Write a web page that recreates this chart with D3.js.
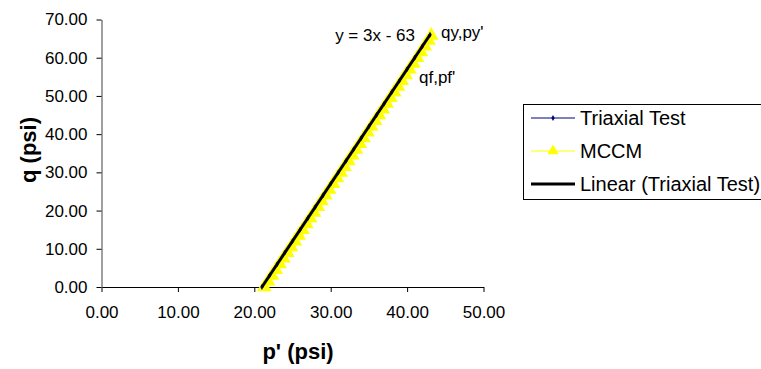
<!DOCTYPE html>
<html><head><meta charset="utf-8">
<script src="https://cdn.jsdelivr.net/npm/d3@7/dist/d3.min.js"></script>
<style>body{margin:0;background:#fff}svg{display:block;font-family:"Liberation Sans",Arial,sans-serif}</style>
</head><body><svg id="c" width="761" height="369"></svg>
<script>
// Data
const xTicks = [0, 10, 20, 30, 40, 50];
const yTicks = [0, 10, 20, 30, 40, 50, 60, 70];
const triaxialP = [21.0, 22.0, 23.0, 24.0, 25.0, 26.0, 27.0, 28.0, 29.0, 30.0, 31.0, 32.0, 33.0, 34.0, 35.0, 36.0, 37.0, 38.0, 39.0, 40.0, 41.0, 42.0, 43.0];
const triaxialQ = [0.0, 3.0, 6.0, 9.0, 12.0, 15.0, 18.0, 21.0, 24.0, 27.0, 30.0, 33.0, 36.0, 39.0, 42.0, 45.0, 48.0, 51.0, 54.0, 57.0, 60.0, 63.0, 66.0];
const mccmP = [21.3, 21.8, 22.3, 22.8, 23.3, 23.8, 24.3, 24.8, 25.3, 25.8, 26.3, 26.8, 27.3, 27.8, 28.3, 28.8, 29.3, 29.8, 30.3, 30.8, 31.3, 31.8, 32.3, 32.8, 33.3, 33.8, 34.3, 34.8, 35.3, 35.8, 36.3, 36.8, 37.3, 37.8, 38.3, 38.8, 39.3, 39.8, 40.3, 40.8, 41.3, 41.8, 42.3, 42.8, 43.15];
const mccmQ = [0.0, 1.5, 3.0, 4.5, 6.0, 7.5, 9.0, 10.5, 12.0, 13.5, 15.0, 16.5, 18.0, 19.5, 21.0, 22.5, 24.0, 25.5, 27.0, 28.5, 30.0, 31.5, 33.0, 34.5, 36.0, 37.5, 39.0, 40.5, 42.0, 43.5, 45.0, 46.5, 48.0, 49.5, 51.0, 52.5, 54.0, 55.5, 57.0, 58.5, 60.0, 61.5, 63.0, 64.5, 65.8];
const trendSlope = 3, trendIntercept = -63;
const trendRange = [21, 43];
const legendLabels = ["Triaxial Test", "MCCM", "Linear (Triaxial Test)"];

const svg = d3.select("#c");
const x = d3.scaleLinear().domain([0, 50]).range([101.5, 483.5]);
const y = d3.scaleLinear().domain([0, 70]).range([287, 19.5]);

// axes
const gx = svg.append("g").attr("transform", "translate(0,287)")
  .call(d3.axisBottom(x).tickValues(xTicks).tickFormat(d3.format(".2f")).tickSize(5).tickSizeOuter(0));
const gy = svg.append("g").attr("transform", "translate(101.5,0)")
  .call(d3.axisLeft(y).tickValues(yTicks).tickFormat(d3.format(".2f")).tickSize(5).tickSizeOuter(0));
[gx, gy].forEach(g => {
  g.selectAll(".tick line").attr("stroke", "#000");
  g.selectAll(".tick text").attr("fill", "#000").style("font-size", "17px").style("font-family", "Liberation Sans, Arial, sans-serif");
});
gx.select(".domain").attr("stroke", "#000");
gy.select(".domain").attr("stroke", "#808080").attr("stroke-width", 1.5);
gx.selectAll(".tick text").attr("y", 31).attr("dy", 0);
gy.selectAll(".tick text").attr("x", -14);

// axis titles
svg.append("text").attr("x", 298).attr("y", 359).attr("text-anchor", "middle")
  .style("font-size", "22px").style("font-weight", "bold").text("p' (psi)");
svg.append("text").attr("transform", "translate(36,150) rotate(-90)").attr("text-anchor", "middle")
  .style("font-size", "22px").style("font-weight", "bold").text("q (psi)");

// MCCM series
const mccm = mccmP.map((p, i) => [p, mccmQ[i]]);
svg.append("path").datum(mccm).attr("fill", "none").attr("stroke", "#ffff00").attr("stroke-width", 1)
  .attr("d", d3.line().x(d => x(d[0])).y(d => y(d[1])));
const tri = d3.symbol().type(d3.symbolTriangle).size(95);
svg.append("g").selectAll("path").data(mccm).join("path")
  .attr("transform", d => `translate(${x(d[0])},${y(d[1])})`).attr("d", tri).attr("fill", "#ffff00");

// Triaxial series
const triax = triaxialP.map((p, i) => [p, triaxialQ[i]]);
svg.append("path").datum(triax).attr("fill", "none").attr("stroke", "#000080").attr("stroke-width", 1)
  .attr("d", d3.line().x(d => x(d[0])).y(d => y(d[1])));
const dia = d3.symbol().type(d3.symbolDiamond).size(10);
svg.append("g").selectAll("path").data(triax).join("path")
  .attr("transform", d => `translate(${x(d[0])},${y(d[1])})`).attr("d", dia).attr("fill", "#000080");

// Trendline
svg.append("line")
  .attr("x1", x(trendRange[0])).attr("y1", y(trendSlope * trendRange[0] + trendIntercept))
  .attr("x2", x(trendRange[1])).attr("y2", y(trendSlope * trendRange[1] + trendIntercept))
  .attr("stroke", "#000").attr("stroke-width", 3);

// annotations
svg.append("text").attr("x", 415).attr("y", 41).attr("text-anchor", "end").style("font-size", "17px").text("y = 3x - 63");
svg.append("text").attr("x", 441).attr("y", 38).style("font-size", "17px").text("qy,py'");
svg.append("text").attr("x", 419).attr("y", 83).style("font-size", "17px").text("qf,pf'");

// legend
const lg = svg.append("g");
lg.append("rect").attr("x", 523.5).attr("y", 104.5).attr("width", 245).attr("height", 95)
  .attr("fill", "#fff").attr("stroke", "#000").attr("stroke-width", 1);
const rowsY = [118, 151, 184];
legendLabels.forEach((lab, i) => {
  const yy = rowsY[i];
  const col = i === 0 ? "#000080" : i === 1 ? "#ffff00" : "#000";
  lg.append("line").attr("x1", 531).attr("x2", 575).attr("y1", yy).attr("y2", yy)
    .attr("stroke", col).attr("stroke-width", i === 2 ? 3 : 1);
  if (i === 0) lg.append("path").attr("transform", `translate(553,${yy})`).attr("d", dia).attr("fill", col);
  if (i === 1) lg.append("path").attr("transform", `translate(553,${yy})`).attr("d", d3.symbol().type(d3.symbolTriangle).size(55)).attr("fill", col);
  lg.append("text").attr("x", 580).attr("y", yy).attr("dy", "0.36em").style("font-size", "20px").text(lab);
});
</script></body></html>
